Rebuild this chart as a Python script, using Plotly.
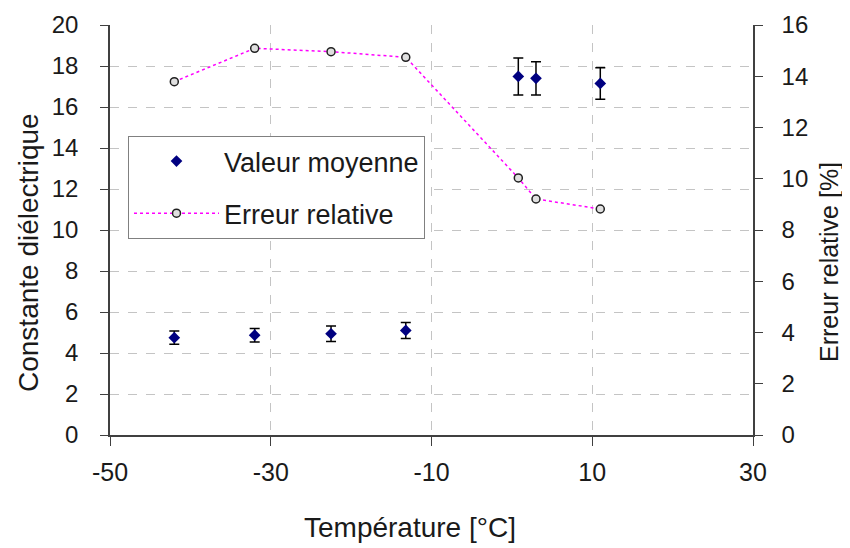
import plotly.graph_objects as go

temp_moy = [-42, -32, -22.5, -13.2, 0.8, 3, 11]
valeur_moyenne = [4.75, 4.87, 4.94, 5.1, 17.49, 17.4, 17.15]
erreur_barre = [0.32, 0.33, 0.38, 0.39, 0.9, 0.81, 0.77]
erreur_relative = [13.79, 15.09, 14.96, 14.74, 10.03, 9.21, 8.82]

x_ticks = [-50, -30, -10, 10, 30]

FONT = "Liberation Sans, Arial, sans-serif"
AX = "#404040"
GRID = "#c4c4c4"

# page body has an 8px margin, so the figure is shifted by 8px
OFF = 8
W, H = 842, 540
PL, PT, PR, PB = 110 - OFF, 25 - OFF, 753 - OFF, 435 - OFF


def px_x(p):
    return (p - OFF - PL) / (PR - PL)


def px_y(p):
    return (PB - (p - OFF)) / (PB - PT)


fig = go.Figure()
fig.add_trace(go.Scatter(
    x=temp_moy, y=valeur_moyenne, mode="markers", name="Valeur moyenne",
    legendgroup="a",
    marker=dict(symbol="diamond", size=9, color="#000080"),
    error_y=dict(type="data", array=erreur_barre, color="black", thickness=1.5, width=5),
))
fig.add_trace(go.Scatter(
    x=temp_moy, y=erreur_relative, mode="lines+markers", name="Erreur relative",
    legendgroup="b", yaxis="y2",
    line=dict(color="#ff00ff", width=1.5, dash="dot"),
    marker=dict(symbol="circle", size=8, color="#e0e0e0", line=dict(color="#202020", width=1.5)),
))

fig.update_layout(
    width=W, height=H,
    margin=dict(l=PL, r=W - PR, t=PT, b=H - PB),
    paper_bgcolor="white", plot_bgcolor="white",
    font=dict(family=FONT, size=24, color="#1a1a1a"),
    showlegend=True,
    legend=dict(x=px_x(128), y=px_y(136), xanchor="left", yanchor="top",
                bordercolor="#808080", borderwidth=1, bgcolor="white",
                font=dict(size=27), tracegroupgap=14, itemwidth=85),
    xaxis=dict(range=[-50, 30], tickvals=x_ticks, ticktext=[str(v) for v in x_ticks],
               showline=True, linecolor=AX, linewidth=1.5,
               ticks="outside", ticklen=9, tickcolor=AX, ticklabelstandoff=5,
               showgrid=True, gridcolor=GRID, griddash="dash", gridwidth=1,
               zeroline=False, automargin=False,
               tickfont=dict(size=25)),
    yaxis=dict(range=[0, 20], dtick=2, showline=True, linecolor=AX, linewidth=1.5,
               ticks="outside", ticklen=8, tickcolor=AX, ticklabelstandoff=17,
               showgrid=True, gridcolor=GRID, griddash="dash", gridwidth=1,
               zeroline=False, automargin=False,
               tickfont=dict(size=24)),
    yaxis2=dict(range=[0, 16], dtick=2, overlaying="y", side="right",
                showline=True, linecolor=AX, linewidth=1.5,
                ticks="outside", ticklen=8, tickcolor=AX, ticklabelstandoff=14,
                showgrid=False, zeroline=False, automargin=False,
                tickfont=dict(size=24)),
    annotations=[
        dict(text="Température [°C]", xref="paper", yref="paper",
             x=px_x(410), y=px_y(527), xanchor="center", yanchor="middle",
             showarrow=False, font=dict(size=28)),
        dict(text="Constante diélectrique", xref="paper", yref="paper",
             x=px_x(28), y=px_y(252), xanchor="center", yanchor="middle",
             textangle=-90, showarrow=False, font=dict(size=28)),
        dict(text="Erreur relative [%]", xref="paper", yref="paper",
             x=px_x(829), y=px_y(262), xanchor="center", yanchor="middle",
             textangle=-90, showarrow=False, font=dict(size=25)),
    ],
)

fig.write_html("out.html")
